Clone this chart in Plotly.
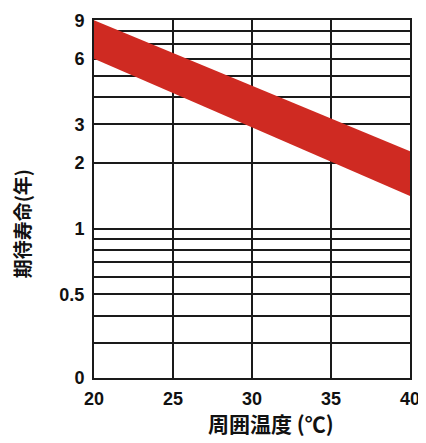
import math
import plotly.graph_objects as go

# Data
temps = [20, 40]
life_upper = [9.0, 2.26]
life_lower = [6.0, 1.41]

x_ticks = [20, 25, 30, 35, 40]
y_grid = [0.3, 0.4, 0.5, 0.6, 0.7, 0.8, 0.9, 1, 2, 3, 4, 5, 6, 7, 8]
y_labeled = {0.207: "0", 0.5: "0.5", 1: "1", 2: "2", 3: "3", 6: "6", 9: "9"}

y_tickvals = sorted(set(y_grid) | set(y_labeled.keys()))
y_ticktext = [y_labeled.get(v, "") for v in y_tickvals]

band_x = temps + temps[::-1]
band_y = life_upper + life_lower[::-1]

fig = go.Figure()
fig.add_trace(go.Scatter(
    x=band_x, y=band_y, fill="toself", mode="lines",
    line=dict(width=0, color="#CF2A22"), fillcolor="#CF2A22",
    hoverinfo="skip", showlegend=False,
))

tick_font = dict(family="Liberation Sans, Arial, sans-serif", size=18, color="#111", weight="bold")
cjk = "Noto Sans CJK JP, Noto Sans CJK SC, sans-serif"

fig.update_xaxes(
    range=[20, 40], tickvals=x_ticks, ticktext=[str(v) for v in x_ticks],
    showgrid=True, gridcolor="#1a1a1a", gridwidth=1.6,
    showline=True, linecolor="#1a1a1a", linewidth=2, mirror=True,
    ticks="", tickfont=tick_font, zeroline=False, layer="above traces",
    tickangle=0, ticklabelstandoff=3,
)
fig.update_yaxes(
    type="log", range=[math.log10(0.207), math.log10(9) + 0.001],
    tickvals=y_tickvals, ticktext=y_ticktext,
    showgrid=True, gridcolor="#1a1a1a", gridwidth=1.6,
    showline=True, linecolor="#1a1a1a", linewidth=2, mirror=True,
    ticks="", tickfont=tick_font, zeroline=False, layer="above traces",
    ticklabelstandoff=4, tickangle=0,
)

fig.add_annotation(
    text="周囲温度 (℃)", xref="paper", yref="paper", x=0.56, y=-0.127,
    showarrow=False, font=dict(family=cjk, size=21, color="#111", weight="bold"),
    xanchor="center", yanchor="middle",
)
fig.add_annotation(
    text="期待寿命(年)", xref="paper", yref="paper", x=-0.229, y=0.431,
    showarrow=False, textangle=-90,
    font=dict(family=cjk, size=19, color="#111", weight="bold"),
    xanchor="center", yanchor="middle",
)

fig.update_layout(
    width=418, height=435,
    margin=dict(l=86, r=16, t=3, b=65),
    paper_bgcolor="white", plot_bgcolor="white",
    showlegend=False,
)

fig.write_html("out.html")
